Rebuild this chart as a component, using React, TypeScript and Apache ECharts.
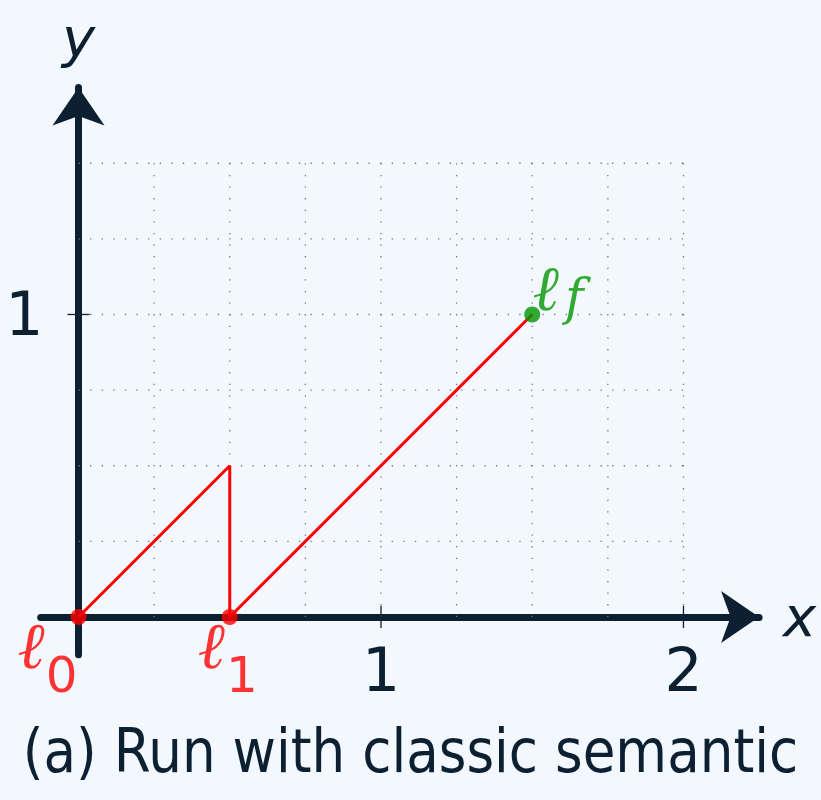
import React, { useEffect, useRef } from "react";
import * as echarts from "echarts";

// Run trace of the classic semantic: points in the (x, y) plane
const runX = [0, 0.5, 0.5, 1.5];
const runY = [0, 0.5, 0, 1];

// Named locations along the run
const startLocations = [
  { sub: "0", x: 0, y: 0 },
  { sub: "1", x: 0.5, y: 0 },
];
const finalLocation = { sub: "f", x: 1.5, y: 1 };

// Dotted helper grid (step 0.25) and labelled ticks
const gridXs = [0.25, 0.5, 0.75, 1, 1.25, 1.5, 1.75, 2];
const gridYs = [0.25, 0.5, 0.75, 1, 1.25, 1.5];
const gridXMax = 2;
const gridYMax = 1.5;
const xTicks = [1, 2];
const yTicks = [1];

const titleText = "(a) Run with classic semantic";

const NAVY = "#0c2032";
const RED = "#ff0000";
const GREEN = "#009600";
const BG = "#f3f8fe";
const FONT = "DejaVu Sans";

export default function App() {
  const ref = useRef<HTMLDivElement>(null);

  useEffect(() => {
    if (!ref.current) return;
    const chart = echarts.init(ref.current, null, { renderer: "svg" });

    // kind 0: dotted grid segment, kind 1: x tick, kind 2: y tick
    const helperData: number[][] = [];
    gridXs.forEach((x) => helperData.push([x, 0, x, gridYMax, 0]));
    gridYs.forEach((y) => helperData.push([0, y, gridXMax, y, 0]));
    xTicks.forEach((x) => helperData.push([x, 0, x, 0, 1]));
    yTicks.forEach((y) => helperData.push([0, y, 0, y, 2]));

    const labelRich = (color: string) => ({
      // ℓ followed by an upright digit subscript
      l: {
        fontFamily: "DejaVu Serif",
        fontStyle: "italic" as const,
        fontSize: 65,
        lineHeight: 64,
        color,
        verticalAlign: "bottom" as const,
        padding: [0, 0, 22, 0],
      },
      s: {
        fontFamily: FONT,
        fontSize: 50,
        lineHeight: 52,
        color,
        verticalAlign: "bottom" as const,
        padding: [0, 0, 0, 1],
      },
      // ℓ followed by an italic letter subscript
      lf: {
        fontFamily: "DejaVu Serif",
        fontStyle: "italic" as const,
        fontSize: 63,
        lineHeight: 62,
        color,
        verticalAlign: "bottom" as const,
        padding: [0, 0, 2, 0],
      },
      si: {
        fontFamily: "DejaVu Serif",
        fontStyle: "italic" as const,
        fontSize: 50,
        lineHeight: 54,
        color,
        verticalAlign: "bottom" as const,
        padding: [0, 0, 0, 6],
      },
    });

    const locLabel = (sub: string) =>
      /\d/.test(sub) ? `{l|ℓ}{s|${sub}}` : `{lf|ℓ}{si|${sub}}`;

    // label offsets around each marker
    const startOffsets = [
      [-31, 51],
      [-2, 51],
    ];

    chart.setOption({
      animation: false,
      backgroundColor: BG,
      grid: {
        left: 40.69,
        width: 718.4,
        top: 87.6,
        height: 567.2,
        containLabel: false,
        outerBoundsMode: "none",
      },
      xAxis: {
        type: "value",
        min: -0.125,
        max: 2.25,
        name: "x",
        nameLocation: "end",
        nameGap: 24,
        nameTextStyle: {
          fontFamily: FONT,
          fontStyle: "italic",
          fontSize: 56,
          color: NAVY,
          verticalAlign: "middle",
        },
        axisLine: {
          onZero: true,
          symbol: ["none", "arrow"],
          symbolSize: [39, 38],
          lineStyle: { color: NAVY, width: 7 },
        },
        axisTick: { show: false },
        splitLine: { show: false },
        axisLabel: { show: false },
      },
      yAxis: {
        type: "value",
        min: -0.125,
        max: 1.75,
        name: "y",
        nameLocation: "end",
        nameGap: 22,
        nameTextStyle: {
          fontFamily: FONT,
          fontStyle: "italic",
          fontSize: 56,
          color: NAVY,
          align: "center",
        },
        axisLine: {
          onZero: true,
          symbol: ["none", "arrow"],
          symbolSize: [39, 38],
          lineStyle: { color: NAVY, width: 7 },
        },
        axisTick: { show: false },
        splitLine: { show: false },
        axisLabel: { show: false },
      },
      graphic: [
        {
          type: "text",
          x: 410.5,
          y: 751,
          scaleX: 0.886,
          style: {
            text: titleText,
            font: `60px "${FONT}"`,
            fill: NAVY,
            textAlign: "center",
            textVerticalAlign: "middle",
          },
        },
      ],
      series: [
        {
          type: "custom",
          z: 1,
          silent: true,
          encode: { x: [0, 2], y: [1, 3] },
          data: helperData,
          renderItem: (_params: any, api: any) => {
            const kind = api.value(4);
            const p1 = api.coord([api.value(0), api.value(1)]);
            const p2 = api.coord([api.value(2), api.value(3)]);
            if (kind === 0) {
              return {
                type: "line",
                shape: { x1: p1[0], y1: p1[1], x2: p2[0], y2: p2[1] },
                style: { stroke: "#6f7984", lineWidth: 1.3, lineDash: [1.3, 10.3] },
              };
            }
            const half = 11;
            const isX = kind === 1;
            const shape = isX
              ? { x1: p1[0], y1: p1[1] - half, x2: p1[0], y2: p1[1] + half }
              : { x1: p1[0] - half, y1: p1[1], x2: p1[0] + half, y2: p1[1] };
            const value = isX ? api.value(0) : api.value(1);
            return {
              type: "group",
              children: [
                {
                  type: "line",
                  shape,
                  style: { stroke: NAVY, lineWidth: 1.3 },
                },
                {
                  type: "text",
                  x: isX ? p1[0] : p1[0] - 35,
                  y: isX ? p1[1] + 53 : p1[1],
                  style: {
                    text: String(value),
                    fontFamily: FONT,
                    fontSize: 60,
                    fill: NAVY,
                    align: isX ? "center" : "right",
                    verticalAlign: "middle",
                  },
                },
              ],
            };
          },
        },
        {
          type: "line",
          z: 3,
          data: runX.map((x, i) => [x, runY[i]]),
          symbol: "none",
          lineStyle: { color: RED, width: 3 },
        },
        {
          type: "scatter",
          z: 4,
          symbolSize: 16,
          itemStyle: { color: RED },
          data: startLocations.map((p, i) => ({
            value: [p.x, p.y],
            name: p.sub,
            label: { offset: startOffsets[i] },
          })),
          label: {
            show: true,
            position: "inside",
            formatter: (p: any) => locLabel(p.name),
            rich: labelRich(RED),
          },
        },
        {
          type: "scatter",
          z: 4,
          symbolSize: 16,
          itemStyle: { color: GREEN },
          data: [{ value: [finalLocation.x, finalLocation.y], name: finalLocation.sub }],
          label: {
            show: true,
            position: "inside",
            offset: [26, -23],
            formatter: (p: any) => locLabel(p.name),
            rich: labelRich(GREEN),
          },
        },
      ],
    });

    return () => chart.dispose();
  }, []);

  return (
    <div
      ref={ref}
      style={{ position: "absolute", left: 0, top: 0, width: 821, height: 800 }}
    />
  );
}
